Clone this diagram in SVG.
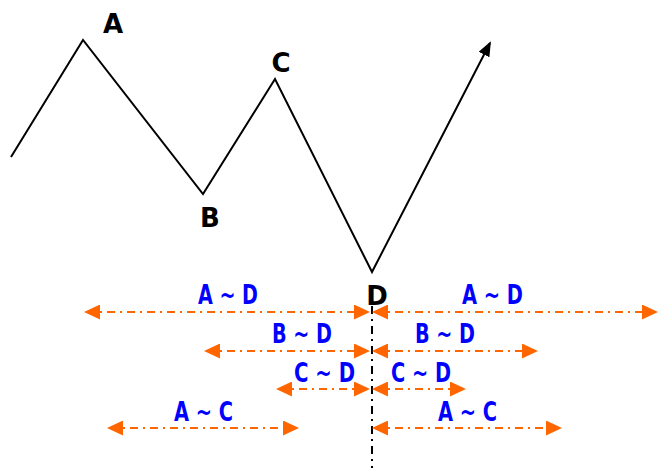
<svg xmlns="http://www.w3.org/2000/svg" width="667" height="468" viewBox="0 0 667 468">
<style>
.pt{font-family:"DejaVu Sans","Liberation Sans",sans-serif;font-weight:bold;font-size:26px;fill:#000}
.lb{font-family:"DejaVu Sans Condensed","DejaVu Sans","Liberation Sans",sans-serif;font-weight:bold;font-size:27px;fill:#0000ff}
.dim{stroke:#ff6600;stroke-width:2;stroke-dasharray:8 5 2 5;fill:none;marker-start:url(#oa);marker-end:url(#oa)}
</style>
<defs>
<marker id="oa" viewBox="0 0 16 15" refX="13" refY="7.5" markerWidth="16" markerHeight="15" markerUnits="userSpaceOnUse" orient="auto-start-reverse">
<path d="M0,0 L16,7.5 L0,15 z" fill="#ff6600"/>
</marker>
<marker id="ba" viewBox="0 0 15 12" refX="13" refY="6" markerWidth="15" markerHeight="12" markerUnits="userSpaceOnUse" orient="auto">
<path d="M0,0 L15,6 L0,12 z" fill="#000"/>
</marker>
</defs>
<g id="price">
<polyline points="11,157 83,40 203,194 275,79 372,272 490,43" fill="none" stroke="#000" stroke-width="2" stroke-linejoin="miter" marker-end="url(#ba)"/>
</g>
<g id="axis">
<line x1="372" y1="306" x2="372" y2="468" stroke="#000" stroke-width="2" stroke-dasharray="8 5 2 5"/>
</g>
<g id="points">
<text class="pt" x="113" y="33" text-anchor="middle">A</text>
<text class="pt" x="210" y="227" text-anchor="middle">B</text>
<text class="pt" x="281" y="72" text-anchor="middle">C</text>
<text class="pt" x="377" y="305" text-anchor="middle">D</text>
</g>
<g id="connectors">
<line class="dim" x1="87" y1="312" x2="367" y2="312"/>
<line class="dim" x1="375" y1="312" x2="655" y2="312"/>
<line class="dim" x1="207" y1="351" x2="367" y2="351"/>
<line class="dim" x1="375" y1="351" x2="535" y2="351"/>
<line class="dim" x1="279" y1="389" x2="367" y2="389"/>
<line class="dim" x1="375" y1="389" x2="463" y2="389"/>
<line class="dim" x1="110" y1="428" x2="296" y2="428"/>
<line class="dim" x1="375" y1="428" x2="559" y2="428"/>
</g>
<g id="labels">
<text class="lb" x="198" y="304" textLength="60" lengthAdjust="spacingAndGlyphs">A ~ D</text>
<text class="lb" x="462" y="304" textLength="61" lengthAdjust="spacingAndGlyphs">A ~ D</text>
<text class="lb" x="272" y="343" textLength="60" lengthAdjust="spacingAndGlyphs">B ~ D</text>
<text class="lb" x="415" y="343" textLength="60" lengthAdjust="spacingAndGlyphs">B ~ D</text>
<text class="lb" x="294" y="382" textLength="61" lengthAdjust="spacingAndGlyphs">C ~ D</text>
<text class="lb" x="391" y="382" textLength="60" lengthAdjust="spacingAndGlyphs">C ~ D</text>
<text class="lb" x="174" y="421" textLength="59" lengthAdjust="spacingAndGlyphs">A ~ C</text>
<text class="lb" x="438" y="421" textLength="59" lengthAdjust="spacingAndGlyphs">A ~ C</text>
</g>
</svg>
